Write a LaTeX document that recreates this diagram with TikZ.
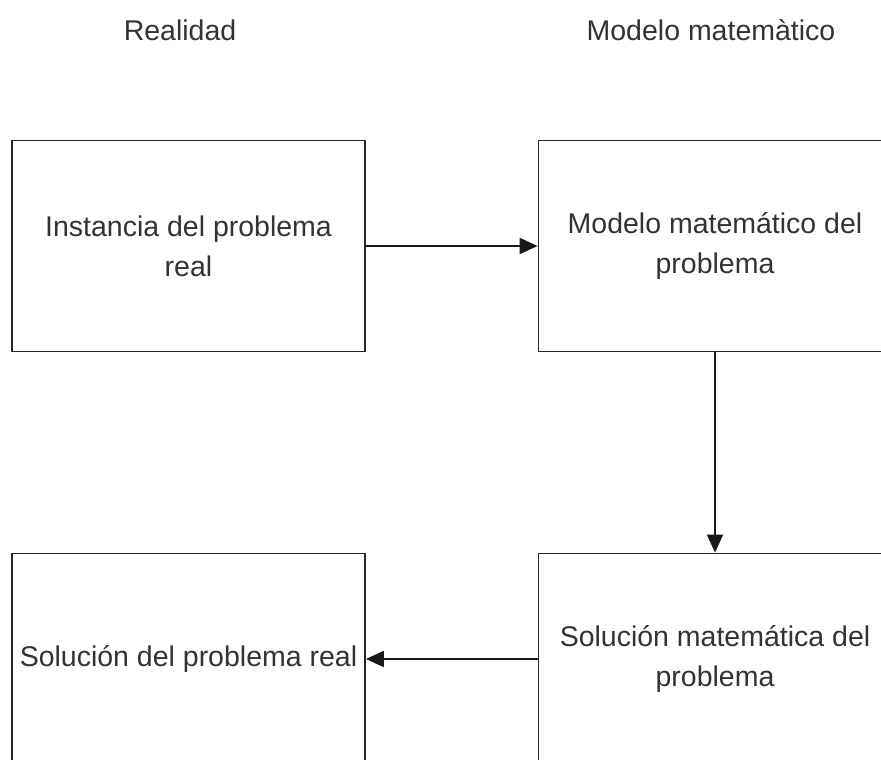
\documentclass[tikz,border=0pt]{standalone}
\usepackage{fontspec}
\setmainfont{Liberation Sans}
\usetikzlibrary{arrows.meta}
\begin{document}
\begin{tikzpicture}[x=1pt,y=-1pt,
  box/.style={draw=black!85,line width=1.8pt,minimum width=353pt,minimum height=211pt,inner sep=0pt,align=center,font=\fontsize{28.5}{40}\selectfont,text=black!80},
  hdr/.style={font=\fontsize{28.5}{34}\selectfont,text=black!80},
  conn/.style={draw=black!90,line width=1.8pt,-{Triangle[length=18pt,width=16pt]}}]
\useasboundingbox (0,0) rectangle (881,760);
\clip (0,0) rectangle (881,760);
\node[hdr] (h1) at (180,30) {Realidad};
\node[hdr] (h2) at (711,30) {Modelo matemàtico};
\node[box] (a) at (188.5,246) {Instancia del problema\\real};
\node[box] (b) at (715,246) {Modelo matemático del\\problema};
\node[box] (c) at (715,659) {Solución matemática del\\problema};
\node[box] (d) at (188.5,659) {Solución del problema real};
\draw[conn] (a) -- (b);
\draw[conn] (b) -- (c);
\draw[conn] (c) -- (d);
\end{tikzpicture}
\end{document}
